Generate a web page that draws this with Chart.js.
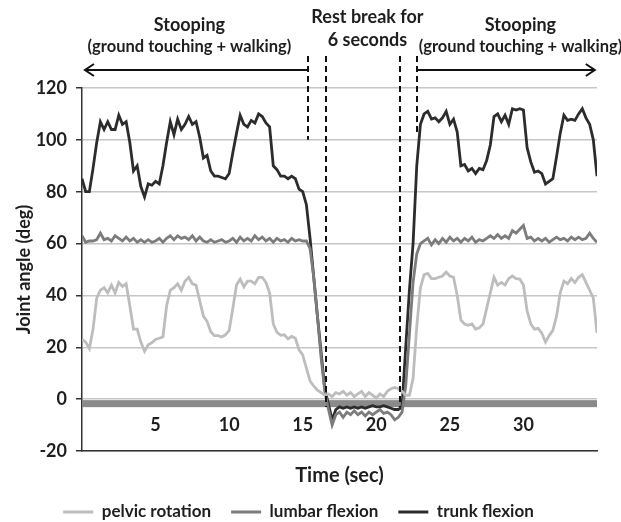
<!DOCTYPE html>
<html>
<head>
<meta charset="utf-8">
<script src="https://cdn.jsdelivr.net/npm/chart.js@4.4.0/dist/chart.umd.min.js"></script>
<style>
  html, body { margin: 0; padding: 0; background: #fff; }
</style>
</head>
<body>
<canvas id="chart" width="621" height="522"></canvas>
<script>
// time axis (sec), one sample every 0.25 s
const time = [
  0, 0.25, 0.5, 0.75, 1, 1.25, 1.5, 1.75,
  2, 2.25, 2.5, 2.75, 3, 3.25, 3.5, 3.75,
  4, 4.25, 4.5, 4.75, 5, 5.25, 5.5, 5.75,
  6, 6.25, 6.5, 6.75, 7, 7.25, 7.5, 7.75,
  8, 8.25, 8.5, 8.75, 9, 9.25, 9.5, 9.75,
  10, 10.25, 10.5, 10.75, 11, 11.25, 11.5, 11.75,
  12, 12.25, 12.5, 12.75, 13, 13.25, 13.5, 13.75,
  14, 14.25, 14.5, 14.75, 15, 15.25, 15.5, 15.75,
  16, 16.25, 16.5, 16.75, 17, 17.25, 17.5, 17.75,
  18, 18.25, 18.5, 18.75, 19, 19.25, 19.5, 19.75,
  20, 20.25, 20.5, 20.75, 21, 21.25, 21.5, 21.75,
  22, 22.25, 22.5, 22.75, 23, 23.25, 23.5, 23.75,
  24, 24.25, 24.5, 24.75, 25, 25.25, 25.5, 25.75,
  26, 26.25, 26.5, 26.75, 27, 27.25, 27.5, 27.75,
  28, 28.25, 28.5, 28.75, 29, 29.25, 29.5, 29.75,
  30, 30.25, 30.5, 30.75, 31, 31.25, 31.5, 31.75,
  32, 32.25, 32.5, 32.75, 33, 33.25, 33.5, 33.75,
  34, 34.25, 34.5, 34.75, 35
];

const pelvicRotation = [
  23, 22, 19.5, 27, 39, 42, 43, 41,
  44, 41, 45, 43.5, 44.5, 36, 27, 27,
  22, 18.5, 21, 21.8, 23, 23.5, 24, 36,
  42, 43, 44.5, 42, 45.5, 47, 44.5, 44,
  38, 32, 30, 26, 24.5, 24.5, 24, 24.8,
  26.5, 35, 44, 46.3, 43.3, 45.5, 45.5, 44.5,
  47, 47, 45, 41, 29, 25.8, 24.6, 24.8,
  23.2, 24.2, 23.5, 19, 17, 12, 7, 5,
  3.5, 2.5, 1.5, 2, 1, 2.5, 2, 3,
  1.5, 2.5, 1, 2, 3, 1, 2.5, 1.5,
  0.5, 2, 1, 3, 4, 4.5, 4, 3,
  1.5, 1.5, 8, 28, 43, 48, 48.5, 46.5,
  46.5, 47, 47.5, 49, 47.5, 47, 40, 30.5,
  29, 28.5, 29, 27, 27.5, 29, 35, 41,
  47, 44, 45, 44, 46.5, 47.5, 46.5, 46.3,
  44, 34, 29, 27, 27.3, 25.4, 22, 24.5,
  26.5, 32, 41, 45.5, 44.5, 46.5, 45, 47,
  48, 45, 42, 39, 25.5
];

const lumbarFlexion = [
  63, 60.5, 61, 61, 61.5, 64, 61.5, 62,
  61, 63, 62, 61, 62.5, 61, 62, 60.5,
  61.5, 60.5, 61.5, 60.5, 61, 62, 60.5, 62,
  63, 61.5, 63, 62, 62.5, 61.5, 63, 61,
  62.5, 61, 60.5, 61.5, 60.5, 61, 61.5, 60.5,
  61, 62, 60.5, 62.5, 61, 62, 61, 63,
  61.5, 62.5, 61, 62, 60.5, 62, 61, 61.5,
  60.5, 62, 61, 61.5, 61, 61, 58, 47,
  32, 16, 3, -4, -10, -6, -5, -7,
  -5, -6, -4.5, -6, -5, -6.5, -5, -6,
  -5, -4, -5.5, -5, -6, -8, -7, -5,
  5, 25, 45, 56, 60, 61, 62, 59.5,
  61.5, 60, 62, 60.5, 62.5, 61, 62, 60.5,
  62, 61, 62.5, 60.5, 61.5, 61, 62, 63,
  62, 63.5, 62, 63, 62, 65, 64, 65.5,
  67, 62, 62.5, 61, 62, 61, 62, 60.5,
  61.5, 62.5, 61.5, 62, 61, 62.5, 61.5, 62.5,
  61.5, 62, 64, 62, 60.5
];

const trunkFlexion = [
  85, 80, 80, 89, 99, 107, 104, 107,
  104, 104, 109.5, 106, 107, 99, 88, 90,
  82, 78, 83, 82.5, 84, 83, 90, 99,
  107, 102, 108, 104, 106, 109, 106, 107,
  101, 93, 94, 88, 86, 86, 85.5, 85,
  87, 95, 102.5, 109.5, 106, 105, 107.5, 106.5,
  110, 109, 106.5, 105, 90, 88.5, 86, 86,
  85, 86, 85, 81, 80, 75, 62, 47,
  32, 18, 4, -2, -8, -4, -3, -3.5,
  -3, -3.5, -3, -3.5, -3, -3.5, -3, -2.5,
  -3, -3, -2.5, -3, -3.5, -4, -4, -3,
  20, 42, 60, 90, 106, 110, 111, 108,
  108.5, 107, 108.5, 111, 106, 108, 103, 90,
  90.5, 88, 89, 87, 89, 88.5, 92, 98,
  109, 110, 107, 109.5, 106, 112, 111.5, 112,
  111.5, 97, 91.5, 87.5, 88, 87, 83, 84,
  85, 93.5, 102.5, 109.5, 107.5, 108, 107.5, 110,
  112, 108.5, 106, 100, 86
];

const xTickLabels = [5, 10, 15, 20, 25, 30];

// phase markers: time of each dashed line and the angle it reaches down to
const markerTimes = [15.35, 16.6, 21.6, 22.75];
const markerEnds = [100, -3, -3, 102];

const FONT = 'Lato, "Open Sans", sans-serif';
const TEXT = '#1e1e1e';

// zero band, dashed markers, arrows and the phase captions
const phasePlugin = {
  id: 'phases',
  beforeDatasetsDraw(chart) {
    const { ctx, chartArea: a, scales: { y } } = chart;
    const y0 = y.getPixelForValue(0);
    ctx.save();
    ctx.fillStyle = '#8a8a8a';
    ctx.fillRect(a.left, y0 + 1, a.right - a.left, 7);
    ctx.restore();
  },
  afterDatasetsDraw(chart) {
    const { ctx, scales: { x, y } } = chart;
    const topY = 56, arrowY = 70;
    ctx.save();
    ctx.strokeStyle = '#111';
    ctx.lineWidth = 2;
    ctx.setLineDash([6, 4]);
    markerTimes.forEach((t, i) => {
      const px = Math.round(x.getPixelForValue(t));
      ctx.beginPath();
      ctx.moveTo(px, topY);
      ctx.lineTo(px, y.getPixelForValue(markerEnds[i]));
      ctx.stroke();
    });
    ctx.setLineDash([]);

    // arrows
    const lx1 = x.getPixelForValue(0.2), lx2 = x.getPixelForValue(markerTimes[0]);
    const rx1 = x.getPixelForValue(markerTimes[3]), rx2 = x.getPixelForValue(34.85);
    ctx.beginPath();
    ctx.moveTo(lx2, arrowY); ctx.lineTo(lx1, arrowY);
    ctx.moveTo(lx1 + 9, arrowY - 6); ctx.lineTo(lx1, arrowY); ctx.lineTo(lx1 + 9, arrowY + 6);
    ctx.moveTo(rx1, arrowY); ctx.lineTo(rx2, arrowY);
    ctx.moveTo(rx2 - 9, arrowY - 6); ctx.lineTo(rx2, arrowY); ctx.lineTo(rx2 - 9, arrowY + 6);
    ctx.stroke();

    // captions
    ctx.fillStyle = TEXT;
    ctx.textAlign = 'center';
    ctx.textBaseline = 'middle';
    const lc = x.getPixelForValue(7.3), mc = x.getPixelForValue(19.4), rc = x.getPixelForValue(29.8);
    ctx.font = 'bold 18px ' + FONT;
    ctx.fillText('Stooping', lc, 25);
    ctx.fillText('Stooping', rc, 25);
    ctx.fillText('Rest break for', mc, 17);
    ctx.fillText('6 seconds', mc, 40);
    ctx.font = 'bold 16.5px ' + FONT;
    ctx.fillText('(ground touching + walking)', lc, 47);
    ctx.fillText('(ground touching + walking)', rc, 47);
    ctx.restore();
  }
};

function series(label, values, color) {
  return {
    label: label,
    data: time.map((t, i) => ({ x: t, y: values[i] })),
    borderColor: color,
    backgroundColor: color,
    borderWidth: 2.8,
    pointRadius: 0,
    tension: 0
  };
}

new Chart(document.getElementById('chart'), {
  type: 'line',
  data: {
    datasets: [
      series('pelvic rotation', pelvicRotation, '#bdbdbd'),
      series('lumbar flexion', lumbarFlexion, '#7c7c7c'),
      series('trunk flexion', trunkFlexion, '#2c2c2c')
    ]
  },
  options: {
    responsive: false,
    animation: false,
    devicePixelRatio: 1,
    layout: { padding: { top: 88, right: 24, bottom: -8.5, left: 0 } },
    plugins: {
      tooltip: { enabled: false },
      legend: {
        position: 'bottom',
        labels: {
          usePointStyle: true,
          pointStyle: 'line',
          pointStyleWidth: 30,
          boxHeight: 17,
          padding: 20,
          color: TEXT,
          font: { family: FONT, size: 17, weight: 'bold' }
        }
      }
    },
    scales: {
      x: {
        type: 'linear',
        min: 0,
        max: 35,
        afterFit: s => { s.height = 32.5; },
        grid: { display: false, drawTicks: false },
        border: { display: true, color: '#333', width: 1.5 },
        ticks: {
          stepSize: 5,
          mirror: true,
          padding: 15,
          color: TEXT,
          font: { family: FONT, size: 18, weight: 'bold' },
          callback: v => xTickLabels.includes(v) ? v : ''
        },
        title: {
          display: true,
          text: 'Time (sec)',
          color: TEXT,
          padding: { top: 0, bottom: -4 },
          font: { family: FONT, size: 20, weight: 'bold' }
        }
      },
      y: {
        min: -20,
        max: 120,
        afterFit: s => { s.width = 82; },
        grid: { color: '#c6c6c6', lineWidth: 1.5, tickColor: '#333', tickLength: 6 },
        border: { display: true, color: '#333', width: 1.5 },
        ticks: {
          stepSize: 20,
          padding: 9,
          color: TEXT,
          font: { family: FONT, size: 18, weight: 'bold' }
        },
        title: {
          display: true,
          text: 'Joint angle (deg)',
          color: TEXT,
          padding: { top: 13, bottom: 0 },
          font: { family: FONT, size: 18, weight: 'bold' }
        }
      }
    }
  },
  plugins: [phasePlugin]
});
</script>
</body>
</html>
